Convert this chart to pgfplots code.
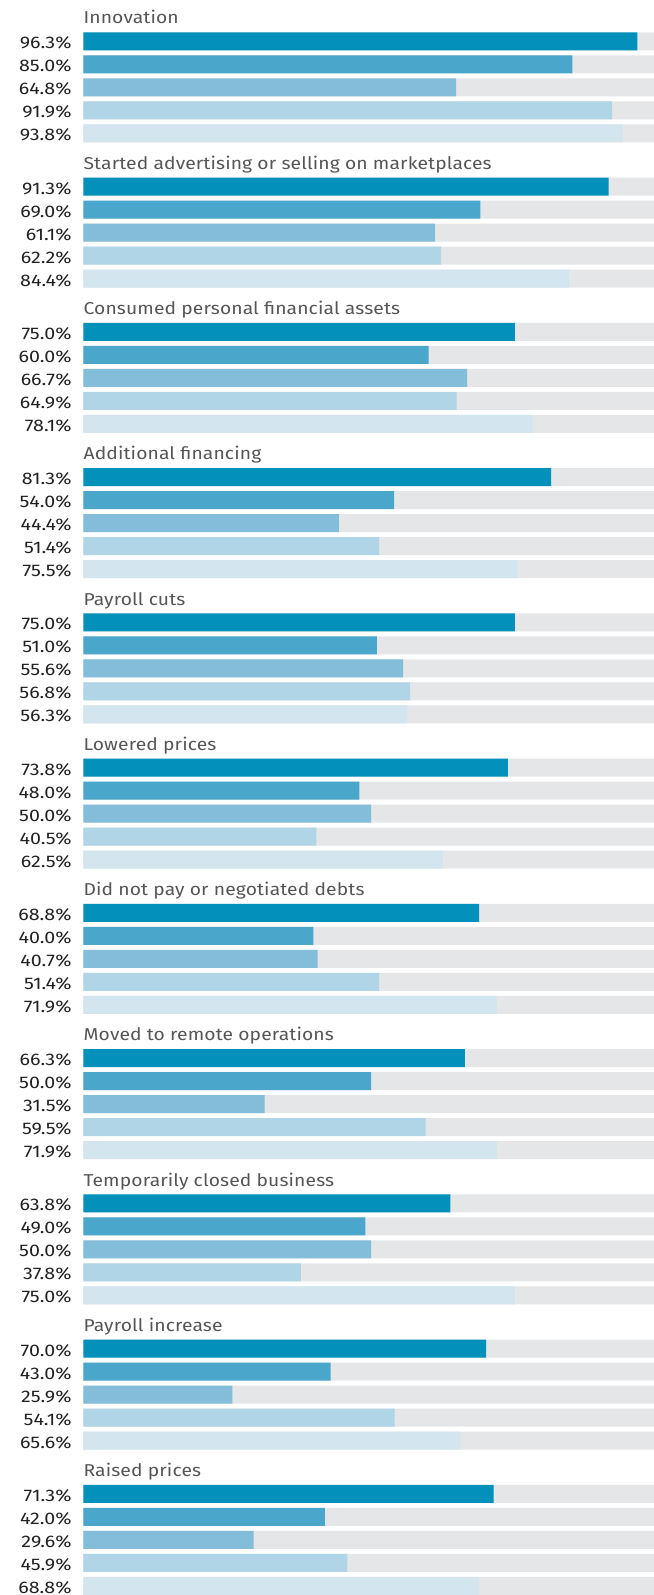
\documentclass[border=0pt]{standalone}
\usepackage{pgfplots}
\usepackage{pgfplotstable}
\pgfplotsset{compat=1.18}
\usepackage{fontspec}
\setmainfont{Fira Sans}
\newfontfamily\numfont{Fira Sans}[FakeStretch=1.17]
\newfontfamily\titlefont{Fira Sans}[FakeStretch=1.12, LetterSpace=0.75]

\definecolor{sA}{HTML}{0391BC}
\definecolor{sB}{HTML}{4BA6CB}
\definecolor{sC}{HTML}{84BDDA}
\definecolor{sD}{HTML}{B0D5E7}
\definecolor{sE}{HTML}{D3E6F0}
\definecolor{track}{HTML}{E5E6E8}
\definecolor{titlegray}{HTML}{555555}

% pos = vertical position of the bar (pt from top), val = share in percent
\pgfplotstableread{
pos     val   full
41.3    96.3  100
186.55  91.3  100
331.8   75.0  100
477.05  81.3  100
622.3   75.0  100
767.55  73.8  100
912.8   68.8  100
1058.05 66.3  100
1203.3  63.8  100
1348.55 70.0  100
1493.8  71.3  100
}\serA
\pgfplotstableread{
pos     val   full
64.3    85.0  100
209.55  69.0  100
354.8   60.0  100
500.05  54.0  100
645.3   51.0  100
790.55  48.0  100
935.8   40.0  100
1081.05 50.0  100
1226.3  49.0  100
1371.55 43.0  100
1516.8  42.0  100
}\serB
\pgfplotstableread{
pos     val   full
87.3    64.8  100
232.55  61.1  100
377.8   66.7  100
523.05  44.4  100
668.3   55.6  100
813.55  50.0  100
958.8   40.7  100
1104.05 31.5  100
1249.3  50.0  100
1394.55 25.9  100
1539.8  29.6  100
}\serC
\pgfplotstableread{
pos     val   full
110.3   91.9  100
255.55  62.2  100
400.8   64.9  100
546.05  51.4  100
691.3   56.8  100
836.55  40.5  100
981.8   51.4  100
1127.05 59.5  100
1272.3  37.8  100
1417.55 54.1  100
1562.8  45.9  100
}\serD
\pgfplotstableread{
pos     val   full
133.3   93.8  100
278.55  84.4  100
423.8   78.1  100
569.05  75.5  100
714.3   56.3  100
859.55  62.5  100
1004.8  71.9  100
1150.05 71.9  100
1295.3  75.0  100
1440.55 65.6  100
1585.8  68.8  100
}\serE

\begin{document}
\begin{tikzpicture}
\begin{axis}[
    xbar,
    bar width=18pt,
    bar shift=0pt,
    scale only axis,
    width=570.6pt,
    height=1595pt,
    xmin=0, xmax=99.2,
    ymin=0, ymax=1595,
    y dir=reverse,
    axis line style={draw=none},
    tick style={draw=none},
    major tick length=0pt,
    xtick=\empty,
    ytick={41.3,64.3,87.3,110.3,133.3,
           186.55,209.55,232.55,255.55,278.55,
           331.8,354.8,377.8,400.8,423.8,
           477.05,500.05,523.05,546.05,569.05,
           622.3,645.3,668.3,691.3,714.3,
           767.55,790.55,813.55,836.55,859.55,
           912.8,935.8,958.8,981.8,1004.8,
           1058.05,1081.05,1104.05,1127.05,1150.05,
           1203.3,1226.3,1249.3,1272.3,1295.3,
           1348.55,1371.55,1394.55,1417.55,1440.55,
           1493.8,1516.8,1539.8,1562.8,1585.8},
    yticklabels={96.3\%,85.0\%,64.8\%,91.9\%,93.8\%,
                 91.3\%,69.0\%,61.1\%,62.2\%,84.4\%,
                 75.0\%,60.0\%,66.7\%,64.9\%,78.1\%,
                 81.3\%,54.0\%,44.4\%,51.4\%,75.5\%,
                 75.0\%,51.0\%,55.6\%,56.8\%,56.3\%,
                 73.8\%,48.0\%,50.0\%,40.5\%,62.5\%,
                 68.8\%,40.0\%,40.7\%,51.4\%,71.9\%,
                 66.3\%,50.0\%,31.5\%,59.5\%,71.9\%,
                 63.8\%,49.0\%,50.0\%,37.8\%,75.0\%,
                 70.0\%,43.0\%,25.9\%,54.1\%,65.6\%,
                 71.3\%,42.0\%,29.6\%,45.9\%,68.8\%},
    yticklabel style={anchor=base east, inner sep=0pt, xshift=-11.7pt,
        yshift=-7.5pt, font=\numfont\fontsize{16.8}{18}\selectfont, text=black!87},
    clip=true,
]
% grey tracks behind every bar
\addplot[fill=track, draw=none] table[x=full, y=pos] {\serA};
\addplot[fill=track, draw=none] table[x=full, y=pos] {\serB};
\addplot[fill=track, draw=none] table[x=full, y=pos] {\serC};
\addplot[fill=track, draw=none] table[x=full, y=pos] {\serD};
\addplot[fill=track, draw=none] table[x=full, y=pos] {\serE};
% the five series
\addplot[fill=sA, draw=none] table[x=val, y=pos] {\serA};
\addplot[fill=sB, draw=none] table[x=val, y=pos] {\serB};
\addplot[fill=sC, draw=none] table[x=val, y=pos] {\serC};
\addplot[fill=sD, draw=none] table[x=val, y=pos] {\serD};
\addplot[fill=sE, draw=none] table[x=val, y=pos] {\serE};

\coordinate (tl) at (rel axis cs:0,0);
\coordinate (br) at (rel axis cs:1,1);

\tikzset{grp/.style={anchor=base west, inner sep=0pt, text=titlegray,
    font=\titlefont\fontsize{17.2}{19}\selectfont}}
\node[grp] at (axis cs:0,24)      {Innovation};
\node[grp] at (axis cs:0,169.25)  {Started advertising or selling on marketplaces};
\node[grp] at (axis cs:0,314.5)   {Consumed personal financial assets};
\node[grp] at (axis cs:0,459.75)  {Additional financing};
\node[grp] at (axis cs:0,605)     {Payroll cuts};
\node[grp] at (axis cs:0,750.25)  {Lowered prices};
\node[grp] at (axis cs:0,895.5)   {Did not pay or negotiated debts};
\node[grp] at (axis cs:0,1040.75) {Moved to remote operations};
\node[grp] at (axis cs:0,1186)    {Temporarily closed business};
\node[grp] at (axis cs:0,1331.25) {Payroll increase};
\node[grp] at (axis cs:0,1476.5)  {Raised prices};
\end{axis}
\path ([xshift=-83.4pt]tl) rectangle (br);
\end{tikzpicture}
\end{document}
